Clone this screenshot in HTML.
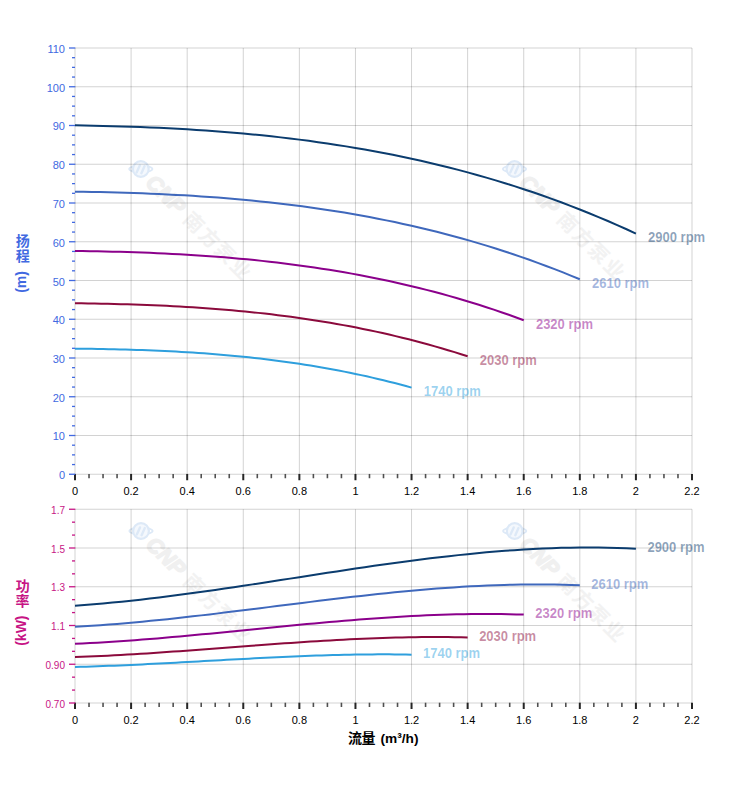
<!DOCTYPE html>
<html><head><meta charset="utf-8"><title>Pump curves</title>
<style>html,body{margin:0;padding:0;background:#fff;}svg{display:block;}text{font-family:"Liberation Sans",sans-serif;}text.cjk{font-family:"Liberation Sans","Noto Sans CJK SC",sans-serif;}</style>
</head><body>
<svg width="752" height="797" viewBox="0 0 752 797">
<rect width="752" height="797" fill="#fff"/>
<g transform="translate(140.8,169)">
<ellipse cx="0" cy="0" rx="11.6" ry="3.4" fill="none" stroke="#dde9f7" stroke-width="1.8"/>
<circle cx="0" cy="0" r="7.9" fill="#f4f8fd" stroke="#dde9f7" stroke-width="2.2"/>
<path d="M-4.2 3.6 L-1.0 -3.6" stroke="#dde9f7" stroke-width="2.4" stroke-linecap="round" fill="none"/>
<path d="M0.6 4.2 L3.8 -3.0" stroke="#dde9f7" stroke-width="2.4" stroke-linecap="round" fill="none"/>
</g>
<g transform="translate(140.8,169) rotate(45)">
<text x="13" y="7.7" font-size="21.5" font-weight="bold" font-style="italic" fill="#f0f0f0" stroke="#f0f0f0" stroke-width="1.5" stroke-linejoin="round">CNP</text>
<text class="cjk" x="65.3 87.3 109.3 131.3" y="7.4" font-size="20" font-weight="bold" fill="#f2f2f2">南方泵业</text>
</g>
<g transform="translate(514.5,169)">
<ellipse cx="0" cy="0" rx="11.6" ry="3.4" fill="none" stroke="#dde9f7" stroke-width="1.8"/>
<circle cx="0" cy="0" r="7.9" fill="#f4f8fd" stroke="#dde9f7" stroke-width="2.2"/>
<path d="M-4.2 3.6 L-1.0 -3.6" stroke="#dde9f7" stroke-width="2.4" stroke-linecap="round" fill="none"/>
<path d="M0.6 4.2 L3.8 -3.0" stroke="#dde9f7" stroke-width="2.4" stroke-linecap="round" fill="none"/>
</g>
<g transform="translate(514.5,169) rotate(45)">
<text x="13" y="7.7" font-size="21.5" font-weight="bold" font-style="italic" fill="#f0f0f0" stroke="#f0f0f0" stroke-width="1.5" stroke-linejoin="round">CNP</text>
<text class="cjk" x="65.3 87.3 109.3 131.3" y="7.4" font-size="20" font-weight="bold" fill="#f2f2f2">南方泵业</text>
</g>
<g transform="translate(141,531)">
<ellipse cx="0" cy="0" rx="11.6" ry="3.4" fill="none" stroke="#dde9f7" stroke-width="1.8"/>
<circle cx="0" cy="0" r="7.9" fill="#f4f8fd" stroke="#dde9f7" stroke-width="2.2"/>
<path d="M-4.2 3.6 L-1.0 -3.6" stroke="#dde9f7" stroke-width="2.4" stroke-linecap="round" fill="none"/>
<path d="M0.6 4.2 L3.8 -3.0" stroke="#dde9f7" stroke-width="2.4" stroke-linecap="round" fill="none"/>
</g>
<g transform="translate(141,531) rotate(45)">
<text x="13" y="7.7" font-size="21.5" font-weight="bold" font-style="italic" fill="#f0f0f0" stroke="#f0f0f0" stroke-width="1.5" stroke-linejoin="round">CNP</text>
<text class="cjk" x="65.3 87.3 109.3 131.3" y="7.4" font-size="20" font-weight="bold" fill="#f2f2f2">南方泵业</text>
</g>
<g transform="translate(514.7,531)">
<ellipse cx="0" cy="0" rx="11.6" ry="3.4" fill="none" stroke="#dde9f7" stroke-width="1.8"/>
<circle cx="0" cy="0" r="7.9" fill="#f4f8fd" stroke="#dde9f7" stroke-width="2.2"/>
<path d="M-4.2 3.6 L-1.0 -3.6" stroke="#dde9f7" stroke-width="2.4" stroke-linecap="round" fill="none"/>
<path d="M0.6 4.2 L3.8 -3.0" stroke="#dde9f7" stroke-width="2.4" stroke-linecap="round" fill="none"/>
</g>
<g transform="translate(514.7,531) rotate(45)">
<text x="13" y="7.7" font-size="21.5" font-weight="bold" font-style="italic" fill="#f0f0f0" stroke="#f0f0f0" stroke-width="1.5" stroke-linejoin="round">CNP</text>
<text class="cjk" x="65.3 87.3 109.3 131.3" y="7.4" font-size="20" font-weight="bold" fill="#f2f2f2">南方泵业</text>
</g>
<line x1="75.000" y1="48.0" x2="75.000" y2="474.25" stroke="#000" stroke-opacity="0.175" stroke-width="1"/>
<line x1="131.091" y1="48.0" x2="131.091" y2="474.25" stroke="#000" stroke-opacity="0.175" stroke-width="1"/>
<line x1="187.182" y1="48.0" x2="187.182" y2="474.25" stroke="#000" stroke-opacity="0.175" stroke-width="1"/>
<line x1="243.273" y1="48.0" x2="243.273" y2="474.25" stroke="#000" stroke-opacity="0.175" stroke-width="1"/>
<line x1="299.364" y1="48.0" x2="299.364" y2="474.25" stroke="#000" stroke-opacity="0.175" stroke-width="1"/>
<line x1="355.455" y1="48.0" x2="355.455" y2="474.25" stroke="#000" stroke-opacity="0.175" stroke-width="1"/>
<line x1="411.545" y1="48.0" x2="411.545" y2="474.25" stroke="#000" stroke-opacity="0.175" stroke-width="1"/>
<line x1="467.636" y1="48.0" x2="467.636" y2="474.25" stroke="#000" stroke-opacity="0.175" stroke-width="1"/>
<line x1="523.727" y1="48.0" x2="523.727" y2="474.25" stroke="#000" stroke-opacity="0.175" stroke-width="1"/>
<line x1="579.818" y1="48.0" x2="579.818" y2="474.25" stroke="#000" stroke-opacity="0.175" stroke-width="1"/>
<line x1="635.909" y1="48.0" x2="635.909" y2="474.25" stroke="#000" stroke-opacity="0.175" stroke-width="1"/>
<line x1="692.000" y1="48.0" x2="692.000" y2="474.25" stroke="#000" stroke-opacity="0.175" stroke-width="1"/>
<line x1="75.0" y1="48.000" x2="692.0" y2="48.000" stroke="#000" stroke-opacity="0.175" stroke-width="1"/>
<line x1="75.0" y1="86.750" x2="692.0" y2="86.750" stroke="#000" stroke-opacity="0.175" stroke-width="1"/>
<line x1="75.0" y1="125.500" x2="692.0" y2="125.500" stroke="#000" stroke-opacity="0.175" stroke-width="1"/>
<line x1="75.0" y1="164.250" x2="692.0" y2="164.250" stroke="#000" stroke-opacity="0.175" stroke-width="1"/>
<line x1="75.0" y1="203.000" x2="692.0" y2="203.000" stroke="#000" stroke-opacity="0.175" stroke-width="1"/>
<line x1="75.0" y1="241.750" x2="692.0" y2="241.750" stroke="#000" stroke-opacity="0.175" stroke-width="1"/>
<line x1="75.0" y1="280.500" x2="692.0" y2="280.500" stroke="#000" stroke-opacity="0.175" stroke-width="1"/>
<line x1="75.0" y1="319.250" x2="692.0" y2="319.250" stroke="#000" stroke-opacity="0.175" stroke-width="1"/>
<line x1="75.0" y1="358.000" x2="692.0" y2="358.000" stroke="#000" stroke-opacity="0.175" stroke-width="1"/>
<line x1="75.0" y1="396.750" x2="692.0" y2="396.750" stroke="#000" stroke-opacity="0.175" stroke-width="1"/>
<line x1="75.0" y1="435.500" x2="692.0" y2="435.500" stroke="#000" stroke-opacity="0.175" stroke-width="1"/>
<line x1="75.0" y1="474.250" x2="692.0" y2="474.250" stroke="#000" stroke-opacity="0.175" stroke-width="1"/>
<line x1="75.000" y1="509.25" x2="75.000" y2="703.0" stroke="#000" stroke-opacity="0.175" stroke-width="1"/>
<line x1="131.091" y1="509.25" x2="131.091" y2="703.0" stroke="#000" stroke-opacity="0.175" stroke-width="1"/>
<line x1="187.182" y1="509.25" x2="187.182" y2="703.0" stroke="#000" stroke-opacity="0.175" stroke-width="1"/>
<line x1="243.273" y1="509.25" x2="243.273" y2="703.0" stroke="#000" stroke-opacity="0.175" stroke-width="1"/>
<line x1="299.364" y1="509.25" x2="299.364" y2="703.0" stroke="#000" stroke-opacity="0.175" stroke-width="1"/>
<line x1="355.455" y1="509.25" x2="355.455" y2="703.0" stroke="#000" stroke-opacity="0.175" stroke-width="1"/>
<line x1="411.545" y1="509.25" x2="411.545" y2="703.0" stroke="#000" stroke-opacity="0.175" stroke-width="1"/>
<line x1="467.636" y1="509.25" x2="467.636" y2="703.0" stroke="#000" stroke-opacity="0.175" stroke-width="1"/>
<line x1="523.727" y1="509.25" x2="523.727" y2="703.0" stroke="#000" stroke-opacity="0.175" stroke-width="1"/>
<line x1="579.818" y1="509.25" x2="579.818" y2="703.0" stroke="#000" stroke-opacity="0.175" stroke-width="1"/>
<line x1="635.909" y1="509.25" x2="635.909" y2="703.0" stroke="#000" stroke-opacity="0.175" stroke-width="1"/>
<line x1="692.000" y1="509.25" x2="692.000" y2="703.0" stroke="#000" stroke-opacity="0.175" stroke-width="1"/>
<line x1="75.0" y1="509.250" x2="692.0" y2="509.250" stroke="#000" stroke-opacity="0.175" stroke-width="1"/>
<line x1="75.0" y1="548.000" x2="692.0" y2="548.000" stroke="#000" stroke-opacity="0.175" stroke-width="1"/>
<line x1="75.0" y1="586.750" x2="692.0" y2="586.750" stroke="#000" stroke-opacity="0.175" stroke-width="1"/>
<line x1="75.0" y1="625.500" x2="692.0" y2="625.500" stroke="#000" stroke-opacity="0.175" stroke-width="1"/>
<line x1="75.0" y1="664.250" x2="692.0" y2="664.250" stroke="#000" stroke-opacity="0.175" stroke-width="1"/>
<line x1="75.0" y1="703.000" x2="692.0" y2="703.000" stroke="#000" stroke-opacity="0.175" stroke-width="1"/>
<line x1="75.000" y1="473.95" x2="75.000" y2="480.25" stroke="#262626" stroke-width="2"/>
<line x1="89.023" y1="473.95" x2="89.023" y2="478.25" stroke="#505050" stroke-width="1.6"/>
<line x1="103.045" y1="473.95" x2="103.045" y2="478.25" stroke="#505050" stroke-width="1.6"/>
<line x1="117.068" y1="473.95" x2="117.068" y2="478.25" stroke="#505050" stroke-width="1.6"/>
<line x1="131.091" y1="473.95" x2="131.091" y2="480.25" stroke="#262626" stroke-width="2"/>
<line x1="145.114" y1="473.95" x2="145.114" y2="478.25" stroke="#505050" stroke-width="1.6"/>
<line x1="159.136" y1="473.95" x2="159.136" y2="478.25" stroke="#505050" stroke-width="1.6"/>
<line x1="173.159" y1="473.95" x2="173.159" y2="478.25" stroke="#505050" stroke-width="1.6"/>
<line x1="187.182" y1="473.95" x2="187.182" y2="480.25" stroke="#262626" stroke-width="2"/>
<line x1="201.205" y1="473.95" x2="201.205" y2="478.25" stroke="#505050" stroke-width="1.6"/>
<line x1="215.227" y1="473.95" x2="215.227" y2="478.25" stroke="#505050" stroke-width="1.6"/>
<line x1="229.250" y1="473.95" x2="229.250" y2="478.25" stroke="#505050" stroke-width="1.6"/>
<line x1="243.273" y1="473.95" x2="243.273" y2="480.25" stroke="#262626" stroke-width="2"/>
<line x1="257.295" y1="473.95" x2="257.295" y2="478.25" stroke="#505050" stroke-width="1.6"/>
<line x1="271.318" y1="473.95" x2="271.318" y2="478.25" stroke="#505050" stroke-width="1.6"/>
<line x1="285.341" y1="473.95" x2="285.341" y2="478.25" stroke="#505050" stroke-width="1.6"/>
<line x1="299.364" y1="473.95" x2="299.364" y2="480.25" stroke="#262626" stroke-width="2"/>
<line x1="313.386" y1="473.95" x2="313.386" y2="478.25" stroke="#505050" stroke-width="1.6"/>
<line x1="327.409" y1="473.95" x2="327.409" y2="478.25" stroke="#505050" stroke-width="1.6"/>
<line x1="341.432" y1="473.95" x2="341.432" y2="478.25" stroke="#505050" stroke-width="1.6"/>
<line x1="355.455" y1="473.95" x2="355.455" y2="480.25" stroke="#262626" stroke-width="2"/>
<line x1="369.477" y1="473.95" x2="369.477" y2="478.25" stroke="#505050" stroke-width="1.6"/>
<line x1="383.500" y1="473.95" x2="383.500" y2="478.25" stroke="#505050" stroke-width="1.6"/>
<line x1="397.523" y1="473.95" x2="397.523" y2="478.25" stroke="#505050" stroke-width="1.6"/>
<line x1="411.545" y1="473.95" x2="411.545" y2="480.25" stroke="#262626" stroke-width="2"/>
<line x1="425.568" y1="473.95" x2="425.568" y2="478.25" stroke="#505050" stroke-width="1.6"/>
<line x1="439.591" y1="473.95" x2="439.591" y2="478.25" stroke="#505050" stroke-width="1.6"/>
<line x1="453.614" y1="473.95" x2="453.614" y2="478.25" stroke="#505050" stroke-width="1.6"/>
<line x1="467.636" y1="473.95" x2="467.636" y2="480.25" stroke="#262626" stroke-width="2"/>
<line x1="481.659" y1="473.95" x2="481.659" y2="478.25" stroke="#505050" stroke-width="1.6"/>
<line x1="495.682" y1="473.95" x2="495.682" y2="478.25" stroke="#505050" stroke-width="1.6"/>
<line x1="509.705" y1="473.95" x2="509.705" y2="478.25" stroke="#505050" stroke-width="1.6"/>
<line x1="523.727" y1="473.95" x2="523.727" y2="480.25" stroke="#262626" stroke-width="2"/>
<line x1="537.750" y1="473.95" x2="537.750" y2="478.25" stroke="#505050" stroke-width="1.6"/>
<line x1="551.773" y1="473.95" x2="551.773" y2="478.25" stroke="#505050" stroke-width="1.6"/>
<line x1="565.795" y1="473.95" x2="565.795" y2="478.25" stroke="#505050" stroke-width="1.6"/>
<line x1="579.818" y1="473.95" x2="579.818" y2="480.25" stroke="#262626" stroke-width="2"/>
<line x1="593.841" y1="473.95" x2="593.841" y2="478.25" stroke="#505050" stroke-width="1.6"/>
<line x1="607.864" y1="473.95" x2="607.864" y2="478.25" stroke="#505050" stroke-width="1.6"/>
<line x1="621.886" y1="473.95" x2="621.886" y2="478.25" stroke="#505050" stroke-width="1.6"/>
<line x1="635.909" y1="473.95" x2="635.909" y2="480.25" stroke="#262626" stroke-width="2"/>
<line x1="649.932" y1="473.95" x2="649.932" y2="478.25" stroke="#505050" stroke-width="1.6"/>
<line x1="663.955" y1="473.95" x2="663.955" y2="478.25" stroke="#505050" stroke-width="1.6"/>
<line x1="677.977" y1="473.95" x2="677.977" y2="478.25" stroke="#505050" stroke-width="1.6"/>
<line x1="692.000" y1="473.95" x2="692.000" y2="480.25" stroke="#262626" stroke-width="2"/>
<text x="75.00" y="495" font-size="11" text-anchor="middle" fill="#000">0</text>
<text x="131.09" y="495" font-size="11" text-anchor="middle" fill="#000">0.2</text>
<text x="187.18" y="495" font-size="11" text-anchor="middle" fill="#000">0.4</text>
<text x="243.27" y="495" font-size="11" text-anchor="middle" fill="#000">0.6</text>
<text x="299.36" y="495" font-size="11" text-anchor="middle" fill="#000">0.8</text>
<text x="355.45" y="495" font-size="11" text-anchor="middle" fill="#000">1</text>
<text x="411.55" y="495" font-size="11" text-anchor="middle" fill="#000">1.2</text>
<text x="467.64" y="495" font-size="11" text-anchor="middle" fill="#000">1.4</text>
<text x="523.73" y="495" font-size="11" text-anchor="middle" fill="#000">1.6</text>
<text x="579.82" y="495" font-size="11" text-anchor="middle" fill="#000">1.8</text>
<text x="635.91" y="495" font-size="11" text-anchor="middle" fill="#000">2</text>
<text x="692.00" y="495" font-size="11" text-anchor="middle" fill="#000">2.2</text>
<line x1="75.000" y1="702.7" x2="75.000" y2="709.0" stroke="#262626" stroke-width="2"/>
<line x1="89.023" y1="702.7" x2="89.023" y2="707.0" stroke="#505050" stroke-width="1.6"/>
<line x1="103.045" y1="702.7" x2="103.045" y2="707.0" stroke="#505050" stroke-width="1.6"/>
<line x1="117.068" y1="702.7" x2="117.068" y2="707.0" stroke="#505050" stroke-width="1.6"/>
<line x1="131.091" y1="702.7" x2="131.091" y2="709.0" stroke="#262626" stroke-width="2"/>
<line x1="145.114" y1="702.7" x2="145.114" y2="707.0" stroke="#505050" stroke-width="1.6"/>
<line x1="159.136" y1="702.7" x2="159.136" y2="707.0" stroke="#505050" stroke-width="1.6"/>
<line x1="173.159" y1="702.7" x2="173.159" y2="707.0" stroke="#505050" stroke-width="1.6"/>
<line x1="187.182" y1="702.7" x2="187.182" y2="709.0" stroke="#262626" stroke-width="2"/>
<line x1="201.205" y1="702.7" x2="201.205" y2="707.0" stroke="#505050" stroke-width="1.6"/>
<line x1="215.227" y1="702.7" x2="215.227" y2="707.0" stroke="#505050" stroke-width="1.6"/>
<line x1="229.250" y1="702.7" x2="229.250" y2="707.0" stroke="#505050" stroke-width="1.6"/>
<line x1="243.273" y1="702.7" x2="243.273" y2="709.0" stroke="#262626" stroke-width="2"/>
<line x1="257.295" y1="702.7" x2="257.295" y2="707.0" stroke="#505050" stroke-width="1.6"/>
<line x1="271.318" y1="702.7" x2="271.318" y2="707.0" stroke="#505050" stroke-width="1.6"/>
<line x1="285.341" y1="702.7" x2="285.341" y2="707.0" stroke="#505050" stroke-width="1.6"/>
<line x1="299.364" y1="702.7" x2="299.364" y2="709.0" stroke="#262626" stroke-width="2"/>
<line x1="313.386" y1="702.7" x2="313.386" y2="707.0" stroke="#505050" stroke-width="1.6"/>
<line x1="327.409" y1="702.7" x2="327.409" y2="707.0" stroke="#505050" stroke-width="1.6"/>
<line x1="341.432" y1="702.7" x2="341.432" y2="707.0" stroke="#505050" stroke-width="1.6"/>
<line x1="355.455" y1="702.7" x2="355.455" y2="709.0" stroke="#262626" stroke-width="2"/>
<line x1="369.477" y1="702.7" x2="369.477" y2="707.0" stroke="#505050" stroke-width="1.6"/>
<line x1="383.500" y1="702.7" x2="383.500" y2="707.0" stroke="#505050" stroke-width="1.6"/>
<line x1="397.523" y1="702.7" x2="397.523" y2="707.0" stroke="#505050" stroke-width="1.6"/>
<line x1="411.545" y1="702.7" x2="411.545" y2="709.0" stroke="#262626" stroke-width="2"/>
<line x1="425.568" y1="702.7" x2="425.568" y2="707.0" stroke="#505050" stroke-width="1.6"/>
<line x1="439.591" y1="702.7" x2="439.591" y2="707.0" stroke="#505050" stroke-width="1.6"/>
<line x1="453.614" y1="702.7" x2="453.614" y2="707.0" stroke="#505050" stroke-width="1.6"/>
<line x1="467.636" y1="702.7" x2="467.636" y2="709.0" stroke="#262626" stroke-width="2"/>
<line x1="481.659" y1="702.7" x2="481.659" y2="707.0" stroke="#505050" stroke-width="1.6"/>
<line x1="495.682" y1="702.7" x2="495.682" y2="707.0" stroke="#505050" stroke-width="1.6"/>
<line x1="509.705" y1="702.7" x2="509.705" y2="707.0" stroke="#505050" stroke-width="1.6"/>
<line x1="523.727" y1="702.7" x2="523.727" y2="709.0" stroke="#262626" stroke-width="2"/>
<line x1="537.750" y1="702.7" x2="537.750" y2="707.0" stroke="#505050" stroke-width="1.6"/>
<line x1="551.773" y1="702.7" x2="551.773" y2="707.0" stroke="#505050" stroke-width="1.6"/>
<line x1="565.795" y1="702.7" x2="565.795" y2="707.0" stroke="#505050" stroke-width="1.6"/>
<line x1="579.818" y1="702.7" x2="579.818" y2="709.0" stroke="#262626" stroke-width="2"/>
<line x1="593.841" y1="702.7" x2="593.841" y2="707.0" stroke="#505050" stroke-width="1.6"/>
<line x1="607.864" y1="702.7" x2="607.864" y2="707.0" stroke="#505050" stroke-width="1.6"/>
<line x1="621.886" y1="702.7" x2="621.886" y2="707.0" stroke="#505050" stroke-width="1.6"/>
<line x1="635.909" y1="702.7" x2="635.909" y2="709.0" stroke="#262626" stroke-width="2"/>
<line x1="649.932" y1="702.7" x2="649.932" y2="707.0" stroke="#505050" stroke-width="1.6"/>
<line x1="663.955" y1="702.7" x2="663.955" y2="707.0" stroke="#505050" stroke-width="1.6"/>
<line x1="677.977" y1="702.7" x2="677.977" y2="707.0" stroke="#505050" stroke-width="1.6"/>
<line x1="692.000" y1="702.7" x2="692.000" y2="709.0" stroke="#262626" stroke-width="2"/>
<text x="75.00" y="724" font-size="11" text-anchor="middle" fill="#000">0</text>
<text x="131.09" y="724" font-size="11" text-anchor="middle" fill="#000">0.2</text>
<text x="187.18" y="724" font-size="11" text-anchor="middle" fill="#000">0.4</text>
<text x="243.27" y="724" font-size="11" text-anchor="middle" fill="#000">0.6</text>
<text x="299.36" y="724" font-size="11" text-anchor="middle" fill="#000">0.8</text>
<text x="355.45" y="724" font-size="11" text-anchor="middle" fill="#000">1</text>
<text x="411.55" y="724" font-size="11" text-anchor="middle" fill="#000">1.2</text>
<text x="467.64" y="724" font-size="11" text-anchor="middle" fill="#000">1.4</text>
<text x="523.73" y="724" font-size="11" text-anchor="middle" fill="#000">1.6</text>
<text x="579.82" y="724" font-size="11" text-anchor="middle" fill="#000">1.8</text>
<text x="635.91" y="724" font-size="11" text-anchor="middle" fill="#000">2</text>
<text x="692.00" y="724" font-size="11" text-anchor="middle" fill="#000">2.2</text>
<line x1="69.0" y1="48.000" x2="75.3" y2="48.000" stroke="#4169E1" stroke-width="1.3"/>
<text x="65.0" y="52.85" font-size="11" text-anchor="end" fill="#4169E1">110</text>
<line x1="72.0" y1="57.688" x2="75.0" y2="57.688" stroke="#4169E1" stroke-width="1.3"/>
<line x1="72.0" y1="67.375" x2="75.0" y2="67.375" stroke="#4169E1" stroke-width="1.3"/>
<line x1="72.0" y1="77.062" x2="75.0" y2="77.062" stroke="#4169E1" stroke-width="1.3"/>
<line x1="69.0" y1="86.750" x2="75.3" y2="86.750" stroke="#4169E1" stroke-width="1.3"/>
<text x="65.0" y="91.85" font-size="11" text-anchor="end" fill="#4169E1">100</text>
<line x1="72.0" y1="96.438" x2="75.0" y2="96.438" stroke="#4169E1" stroke-width="1.3"/>
<line x1="72.0" y1="106.125" x2="75.0" y2="106.125" stroke="#4169E1" stroke-width="1.3"/>
<line x1="72.0" y1="115.812" x2="75.0" y2="115.812" stroke="#4169E1" stroke-width="1.3"/>
<line x1="69.0" y1="125.500" x2="75.3" y2="125.500" stroke="#4169E1" stroke-width="1.3"/>
<text x="65.0" y="129.85" font-size="11" text-anchor="end" fill="#4169E1">90</text>
<line x1="72.0" y1="135.188" x2="75.0" y2="135.188" stroke="#4169E1" stroke-width="1.3"/>
<line x1="72.0" y1="144.875" x2="75.0" y2="144.875" stroke="#4169E1" stroke-width="1.3"/>
<line x1="72.0" y1="154.562" x2="75.0" y2="154.562" stroke="#4169E1" stroke-width="1.3"/>
<line x1="69.0" y1="164.250" x2="75.3" y2="164.250" stroke="#4169E1" stroke-width="1.3"/>
<text x="65.0" y="168.85" font-size="11" text-anchor="end" fill="#4169E1">80</text>
<line x1="72.0" y1="173.938" x2="75.0" y2="173.938" stroke="#4169E1" stroke-width="1.3"/>
<line x1="72.0" y1="183.625" x2="75.0" y2="183.625" stroke="#4169E1" stroke-width="1.3"/>
<line x1="72.0" y1="193.312" x2="75.0" y2="193.312" stroke="#4169E1" stroke-width="1.3"/>
<line x1="69.0" y1="203.000" x2="75.3" y2="203.000" stroke="#4169E1" stroke-width="1.3"/>
<text x="65.0" y="207.85" font-size="11" text-anchor="end" fill="#4169E1">70</text>
<line x1="72.0" y1="212.688" x2="75.0" y2="212.688" stroke="#4169E1" stroke-width="1.3"/>
<line x1="72.0" y1="222.375" x2="75.0" y2="222.375" stroke="#4169E1" stroke-width="1.3"/>
<line x1="72.0" y1="232.062" x2="75.0" y2="232.062" stroke="#4169E1" stroke-width="1.3"/>
<line x1="69.0" y1="241.750" x2="75.3" y2="241.750" stroke="#4169E1" stroke-width="1.3"/>
<text x="65.0" y="246.85" font-size="11" text-anchor="end" fill="#4169E1">60</text>
<line x1="72.0" y1="251.438" x2="75.0" y2="251.438" stroke="#4169E1" stroke-width="1.3"/>
<line x1="72.0" y1="261.125" x2="75.0" y2="261.125" stroke="#4169E1" stroke-width="1.3"/>
<line x1="72.0" y1="270.812" x2="75.0" y2="270.812" stroke="#4169E1" stroke-width="1.3"/>
<line x1="69.0" y1="280.500" x2="75.3" y2="280.500" stroke="#4169E1" stroke-width="1.3"/>
<text x="65.0" y="285.85" font-size="11" text-anchor="end" fill="#4169E1">50</text>
<line x1="72.0" y1="290.188" x2="75.0" y2="290.188" stroke="#4169E1" stroke-width="1.3"/>
<line x1="72.0" y1="299.875" x2="75.0" y2="299.875" stroke="#4169E1" stroke-width="1.3"/>
<line x1="72.0" y1="309.562" x2="75.0" y2="309.562" stroke="#4169E1" stroke-width="1.3"/>
<line x1="69.0" y1="319.250" x2="75.3" y2="319.250" stroke="#4169E1" stroke-width="1.3"/>
<text x="65.0" y="323.85" font-size="11" text-anchor="end" fill="#4169E1">40</text>
<line x1="72.0" y1="328.938" x2="75.0" y2="328.938" stroke="#4169E1" stroke-width="1.3"/>
<line x1="72.0" y1="338.625" x2="75.0" y2="338.625" stroke="#4169E1" stroke-width="1.3"/>
<line x1="72.0" y1="348.312" x2="75.0" y2="348.312" stroke="#4169E1" stroke-width="1.3"/>
<line x1="69.0" y1="358.000" x2="75.3" y2="358.000" stroke="#4169E1" stroke-width="1.3"/>
<text x="65.0" y="362.85" font-size="11" text-anchor="end" fill="#4169E1">30</text>
<line x1="72.0" y1="367.688" x2="75.0" y2="367.688" stroke="#4169E1" stroke-width="1.3"/>
<line x1="72.0" y1="377.375" x2="75.0" y2="377.375" stroke="#4169E1" stroke-width="1.3"/>
<line x1="72.0" y1="387.062" x2="75.0" y2="387.062" stroke="#4169E1" stroke-width="1.3"/>
<line x1="69.0" y1="396.750" x2="75.3" y2="396.750" stroke="#4169E1" stroke-width="1.3"/>
<text x="65.0" y="401.85" font-size="11" text-anchor="end" fill="#4169E1">20</text>
<line x1="72.0" y1="406.438" x2="75.0" y2="406.438" stroke="#4169E1" stroke-width="1.3"/>
<line x1="72.0" y1="416.125" x2="75.0" y2="416.125" stroke="#4169E1" stroke-width="1.3"/>
<line x1="72.0" y1="425.812" x2="75.0" y2="425.812" stroke="#4169E1" stroke-width="1.3"/>
<line x1="69.0" y1="435.500" x2="75.3" y2="435.500" stroke="#4169E1" stroke-width="1.3"/>
<text x="65.0" y="439.85" font-size="11" text-anchor="end" fill="#4169E1">10</text>
<line x1="72.0" y1="445.188" x2="75.0" y2="445.188" stroke="#4169E1" stroke-width="1.3"/>
<line x1="72.0" y1="454.875" x2="75.0" y2="454.875" stroke="#4169E1" stroke-width="1.3"/>
<line x1="72.0" y1="464.562" x2="75.0" y2="464.562" stroke="#4169E1" stroke-width="1.3"/>
<line x1="69.0" y1="474.250" x2="75.3" y2="474.250" stroke="#4169E1" stroke-width="1.3"/>
<text x="65.0" y="478.85" font-size="11" text-anchor="end" fill="#4169E1">0</text>
<line x1="69.0" y1="509.250" x2="75.3" y2="509.250" stroke="#C71585" stroke-width="1.3"/>
<text x="65.0" y="513.85" font-size="10" text-anchor="end" fill="#C71585">1.7</text>
<line x1="72.0" y1="522.167" x2="75.0" y2="522.167" stroke="#C71585" stroke-width="1.3"/>
<line x1="72.0" y1="535.083" x2="75.0" y2="535.083" stroke="#C71585" stroke-width="1.3"/>
<line x1="69.0" y1="548.000" x2="75.3" y2="548.000" stroke="#C71585" stroke-width="1.3"/>
<text x="65.0" y="552.85" font-size="10" text-anchor="end" fill="#C71585">1.5</text>
<line x1="72.0" y1="560.917" x2="75.0" y2="560.917" stroke="#C71585" stroke-width="1.3"/>
<line x1="72.0" y1="573.833" x2="75.0" y2="573.833" stroke="#C71585" stroke-width="1.3"/>
<line x1="69.0" y1="586.750" x2="75.3" y2="586.750" stroke="#C71585" stroke-width="1.3"/>
<text x="65.0" y="590.85" font-size="10" text-anchor="end" fill="#C71585">1.3</text>
<line x1="72.0" y1="599.667" x2="75.0" y2="599.667" stroke="#C71585" stroke-width="1.3"/>
<line x1="72.0" y1="612.583" x2="75.0" y2="612.583" stroke="#C71585" stroke-width="1.3"/>
<line x1="69.0" y1="625.500" x2="75.3" y2="625.500" stroke="#C71585" stroke-width="1.3"/>
<text x="65.0" y="629.85" font-size="10" text-anchor="end" fill="#C71585">1.1</text>
<line x1="72.0" y1="638.417" x2="75.0" y2="638.417" stroke="#C71585" stroke-width="1.3"/>
<line x1="72.0" y1="651.333" x2="75.0" y2="651.333" stroke="#C71585" stroke-width="1.3"/>
<line x1="69.0" y1="664.250" x2="75.3" y2="664.250" stroke="#C71585" stroke-width="1.3"/>
<text x="65.0" y="668.85" font-size="10" text-anchor="end" fill="#C71585">0.90</text>
<line x1="72.0" y1="677.167" x2="75.0" y2="677.167" stroke="#C71585" stroke-width="1.3"/>
<line x1="72.0" y1="690.083" x2="75.0" y2="690.083" stroke="#C71585" stroke-width="1.3"/>
<line x1="69.0" y1="703.000" x2="75.3" y2="703.000" stroke="#C71585" stroke-width="1.3"/>
<text x="65.0" y="707.85" font-size="10" text-anchor="end" fill="#C71585">0.70</text>
<path d="M75.00 125.36 L84.35 125.51 L93.70 125.70 L103.05 125.91 L112.39 126.15 L121.74 126.43 L131.09 126.73 L140.44 127.08 L149.79 127.45 L159.14 127.87 L168.48 128.32 L177.83 128.82 L187.18 129.36 L196.53 129.94 L205.88 130.57 L215.23 131.24 L224.58 131.96 L233.92 132.73 L243.27 133.55 L252.62 134.43 L261.97 135.35 L271.32 136.34 L280.67 137.38 L290.02 138.48 L299.36 139.63 L308.71 140.85 L318.06 142.14 L327.41 143.48 L336.76 144.89 L346.11 146.37 L355.45 147.92 L364.80 149.54 L374.15 151.23 L383.50 152.99 L392.85 154.83 L402.20 156.74 L411.55 158.73 L420.89 160.80 L430.24 162.95 L439.59 165.18 L448.94 167.50 L458.29 169.90 L467.64 172.38 L476.98 174.96 L486.33 177.62 L495.68 180.37 L505.03 183.22 L514.38 186.16 L523.73 189.19 L533.08 192.32 L542.42 195.55 L551.77 198.88 L561.12 202.31 L570.47 205.84 L579.82 209.48 L589.17 213.22 L598.52 217.07 L607.86 221.03 L617.21 225.10 L626.56 229.27 L635.91 233.56" fill="none" stroke="#0B3C6E" stroke-width="2" stroke-linejoin="round"/>
<text transform="translate(648.11,241.86) scale(1,1.06)" font-size="13" font-weight="bold" fill="#0B3C6E" fill-opacity="0.47">2900 rpm</text>
<path d="M75.00 191.65 L83.41 191.77 L91.83 191.92 L100.24 192.09 L108.65 192.29 L117.07 192.51 L125.48 192.76 L133.90 193.04 L142.31 193.34 L150.72 193.68 L159.14 194.05 L167.55 194.45 L175.96 194.89 L184.38 195.36 L192.79 195.87 L201.20 196.41 L209.62 197.00 L218.03 197.62 L226.45 198.29 L234.86 198.99 L243.27 199.74 L251.69 200.54 L260.10 201.38 L268.51 202.27 L276.93 203.21 L285.34 204.20 L293.75 205.24 L302.17 206.33 L310.58 207.47 L319.00 208.67 L327.41 209.92 L335.82 211.23 L344.24 212.60 L352.65 214.03 L361.06 215.52 L369.48 217.07 L377.89 218.68 L386.30 220.36 L394.72 222.10 L403.13 223.90 L411.55 225.78 L419.96 227.72 L428.37 229.74 L436.79 231.82 L445.20 233.98 L453.61 236.21 L462.03 238.51 L470.44 240.90 L478.85 243.35 L487.27 245.89 L495.68 248.51 L504.10 251.20 L512.51 253.98 L520.92 256.84 L529.34 259.79 L537.75 262.82 L546.16 265.94 L554.58 269.14 L562.99 272.43 L571.40 275.82 L579.82 279.29" fill="none" stroke="#3F68BC" stroke-width="2" stroke-linejoin="round"/>
<text transform="translate(592.02,287.59) scale(1,1.06)" font-size="13" font-weight="bold" fill="#3F68BC" fill-opacity="0.47">2610 rpm</text>
<path d="M75.00 250.96 L82.48 251.06 L89.96 251.18 L97.44 251.31 L104.92 251.47 L112.39 251.64 L119.87 251.84 L127.35 252.06 L134.83 252.30 L142.31 252.57 L149.79 252.86 L157.27 253.18 L164.75 253.52 L172.22 253.89 L179.70 254.29 L187.18 254.72 L194.66 255.18 L202.14 255.68 L209.62 256.20 L217.10 256.76 L224.58 257.36 L232.05 257.99 L239.53 258.65 L247.01 259.35 L254.49 260.10 L261.97 260.88 L269.45 261.70 L276.93 262.56 L284.41 263.46 L291.88 264.41 L299.36 265.40 L306.84 266.43 L314.32 267.52 L321.80 268.64 L329.28 269.82 L336.76 271.04 L344.24 272.32 L351.72 273.64 L359.19 275.02 L366.67 276.45 L374.15 277.93 L381.63 279.46 L389.11 281.05 L396.59 282.70 L404.07 284.41 L411.55 286.17 L419.02 287.99 L426.50 289.87 L433.98 291.81 L441.46 293.82 L448.94 295.88 L456.42 298.01 L463.90 300.21 L471.38 302.47 L478.85 304.80 L486.33 307.19 L493.81 309.66 L501.29 312.19 L508.77 314.79 L516.25 317.47 L523.73 320.21" fill="none" stroke="#8B008B" stroke-width="2" stroke-linejoin="round"/>
<text transform="translate(535.93,328.51) scale(1,1.06)" font-size="13" font-weight="bold" fill="#8B008B" fill-opacity="0.47">2320 rpm</text>
<path d="M75.00 303.29 L81.54 303.37 L88.09 303.46 L94.63 303.56 L101.18 303.68 L107.72 303.82 L114.26 303.97 L120.81 304.13 L127.35 304.32 L133.90 304.52 L140.44 304.75 L146.98 304.99 L153.53 305.25 L160.07 305.54 L166.62 305.85 L173.16 306.17 L179.70 306.53 L186.25 306.91 L192.79 307.31 L199.33 307.74 L205.88 308.19 L212.42 308.67 L218.97 309.18 L225.51 309.72 L232.05 310.29 L238.60 310.89 L245.14 311.51 L251.69 312.17 L258.23 312.87 L264.77 313.59 L271.32 314.35 L277.86 315.14 L284.41 315.97 L290.95 316.83 L297.49 317.73 L304.04 318.67 L310.58 319.65 L317.13 320.66 L323.67 321.71 L330.21 322.81 L336.76 323.94 L343.30 325.12 L349.85 326.33 L356.39 327.60 L362.93 328.90 L369.48 330.25 L376.02 331.64 L382.57 333.08 L389.11 334.57 L395.65 336.11 L402.20 337.69 L408.74 339.32 L415.28 341.00 L421.83 342.73 L428.37 344.51 L434.92 346.35 L441.46 348.23 L448.00 350.17 L454.55 352.16 L461.09 354.21 L467.64 356.31" fill="none" stroke="#8B0A3C" stroke-width="2" stroke-linejoin="round"/>
<text transform="translate(479.84,364.61) scale(1,1.06)" font-size="13" font-weight="bold" fill="#8B0A3C" fill-opacity="0.47">2030 rpm</text>
<path d="M75.00 348.65 L80.61 348.71 L86.22 348.77 L91.83 348.85 L97.44 348.93 L103.05 349.03 L108.65 349.14 L114.26 349.27 L119.87 349.40 L125.48 349.55 L131.09 349.72 L136.70 349.90 L142.31 350.09 L147.92 350.30 L153.53 350.52 L159.14 350.77 L164.75 351.03 L170.35 351.30 L175.96 351.60 L181.57 351.91 L187.18 352.25 L192.79 352.60 L198.40 352.98 L204.01 353.37 L209.62 353.79 L215.23 354.23 L220.84 354.69 L226.45 355.17 L232.05 355.68 L237.66 356.21 L243.27 356.77 L248.88 357.35 L254.49 357.96 L260.10 358.60 L265.71 359.26 L271.32 359.95 L276.93 360.66 L282.54 361.41 L288.15 362.18 L293.75 362.99 L299.36 363.82 L304.97 364.68 L310.58 365.58 L316.19 366.50 L321.80 367.46 L327.41 368.45 L333.02 369.48 L338.63 370.54 L344.24 371.63 L349.85 372.76 L355.45 373.92 L361.06 375.12 L366.67 376.35 L372.28 377.62 L377.89 378.93 L383.50 380.28 L389.11 381.67 L394.72 383.09 L400.33 384.55 L405.94 386.06 L411.55 387.60" fill="none" stroke="#2E9FDD" stroke-width="2" stroke-linejoin="round"/>
<text transform="translate(423.75,395.90) scale(1,1.06)" font-size="13" font-weight="bold" fill="#2E9FDD" fill-opacity="0.47">1740 rpm</text>
<path d="M75.00 605.70 L84.35 605.02 L93.70 604.27 L103.05 603.47 L112.39 602.60 L121.74 601.67 L131.09 600.69 L140.44 599.66 L149.79 598.59 L159.14 597.46 L168.48 596.30 L177.83 595.09 L187.18 593.85 L196.53 592.58 L205.88 591.27 L215.23 589.94 L224.58 588.58 L233.92 587.20 L243.27 585.80 L252.62 584.38 L261.97 582.96 L271.32 581.52 L280.67 580.07 L290.02 578.62 L299.36 577.17 L308.71 575.72 L318.06 574.28 L327.41 572.84 L336.76 571.41 L346.11 570.00 L355.45 568.60 L364.80 567.22 L374.15 565.86 L383.50 564.53 L392.85 563.23 L402.20 561.95 L411.55 560.71 L420.89 559.51 L430.24 558.35 L439.59 557.22 L448.94 556.15 L458.29 555.12 L467.64 554.15 L476.98 553.22 L486.33 552.36 L495.68 551.55 L505.03 550.81 L514.38 550.14 L523.73 549.53 L533.08 548.99 L542.42 548.53 L551.77 548.15 L561.12 547.85 L570.47 547.63 L579.82 547.49 L589.17 547.45 L598.52 547.50 L607.86 547.64 L617.21 547.88 L626.56 548.22 L635.91 548.67" fill="none" stroke="#0B3C6E" stroke-width="2" stroke-linejoin="round"/>
<text transform="translate(647.41,552.07) scale(1,1.08)" font-size="13" font-weight="bold" fill="#0B3C6E" fill-opacity="0.47">2900 rpm</text>
<path d="M75.00 626.87 L83.41 626.37 L91.83 625.83 L100.24 625.24 L108.65 624.61 L117.07 623.93 L125.48 623.22 L133.90 622.47 L142.31 621.68 L150.72 620.87 L159.14 620.02 L167.55 619.14 L175.96 618.23 L184.38 617.30 L192.79 616.35 L201.20 615.38 L209.62 614.39 L218.03 613.38 L226.45 612.36 L234.86 611.33 L243.27 610.29 L251.69 609.24 L260.10 608.19 L268.51 607.13 L276.93 606.07 L285.34 605.02 L293.75 603.96 L302.17 602.91 L310.58 601.87 L319.00 600.84 L327.41 599.82 L335.82 598.82 L344.24 597.83 L352.65 596.86 L361.06 595.91 L369.48 594.98 L377.89 594.07 L386.30 593.20 L394.72 592.35 L403.13 591.53 L411.55 590.75 L419.96 590.00 L428.37 589.29 L436.79 588.61 L445.20 587.98 L453.61 587.40 L462.03 586.86 L470.44 586.36 L478.85 585.92 L487.27 585.53 L495.68 585.19 L504.10 584.92 L512.51 584.69 L520.92 584.53 L529.34 584.44 L537.75 584.41 L546.16 584.44 L554.58 584.55 L562.99 584.72 L571.40 584.97 L579.82 585.30" fill="none" stroke="#3F68BC" stroke-width="2" stroke-linejoin="round"/>
<text transform="translate(591.32,588.70) scale(1,1.08)" font-size="13" font-weight="bold" fill="#3F68BC" fill-opacity="0.47">2610 rpm</text>
<path d="M75.00 643.82 L82.48 643.47 L89.96 643.09 L97.44 642.68 L104.92 642.23 L112.39 641.76 L119.87 641.26 L127.35 640.73 L134.83 640.18 L142.31 639.60 L149.79 639.01 L157.27 638.39 L164.75 637.76 L172.22 637.10 L179.70 636.43 L187.18 635.75 L194.66 635.06 L202.14 634.35 L209.62 633.63 L217.10 632.91 L224.58 632.18 L232.05 631.44 L239.53 630.70 L247.01 629.96 L254.49 629.22 L261.97 628.47 L269.45 627.73 L276.93 627.00 L284.41 626.27 L291.88 625.54 L299.36 624.83 L306.84 624.12 L314.32 623.42 L321.80 622.74 L329.28 622.08 L336.76 621.42 L344.24 620.79 L351.72 620.17 L359.19 619.58 L366.67 619.00 L374.15 618.45 L381.63 617.93 L389.11 617.43 L396.59 616.95 L404.07 616.51 L411.55 616.10 L419.02 615.72 L426.50 615.37 L433.98 615.06 L441.46 614.79 L448.94 614.55 L456.42 614.36 L463.90 614.20 L471.38 614.09 L478.85 614.02 L486.33 614.00 L493.81 614.02 L501.29 614.10 L508.77 614.22 L516.25 614.39 L523.73 614.62" fill="none" stroke="#8B008B" stroke-width="2" stroke-linejoin="round"/>
<text transform="translate(535.23,618.02) scale(1,1.08)" font-size="13" font-weight="bold" fill="#8B008B" fill-opacity="0.47">2320 rpm</text>
<path d="M75.00 657.02 L81.54 656.79 L88.09 656.53 L94.63 656.26 L101.18 655.96 L107.72 655.64 L114.26 655.31 L120.81 654.95 L127.35 654.58 L133.90 654.20 L140.44 653.80 L146.98 653.39 L153.53 652.96 L160.07 652.52 L166.62 652.07 L173.16 651.62 L179.70 651.15 L186.25 650.68 L192.79 650.20 L199.33 649.71 L205.88 649.22 L212.42 648.73 L218.97 648.23 L225.51 647.74 L232.05 647.24 L238.60 646.74 L245.14 646.25 L251.69 645.75 L258.23 645.26 L264.77 644.78 L271.32 644.30 L277.86 643.83 L284.41 643.36 L290.95 642.90 L297.49 642.46 L304.04 642.02 L310.58 641.59 L317.13 641.18 L323.67 640.78 L330.21 640.40 L336.76 640.03 L343.30 639.68 L349.85 639.34 L356.39 639.02 L362.93 638.73 L369.48 638.45 L376.02 638.20 L382.57 637.97 L389.11 637.76 L395.65 637.57 L402.20 637.42 L408.74 637.28 L415.28 637.18 L421.83 637.10 L428.37 637.06 L434.92 637.04 L441.46 637.06 L448.00 637.11 L454.55 637.19 L461.09 637.31 L467.64 637.46" fill="none" stroke="#8B0A3C" stroke-width="2" stroke-linejoin="round"/>
<text transform="translate(479.14,640.86) scale(1,1.08)" font-size="13" font-weight="bold" fill="#8B0A3C" fill-opacity="0.47">2030 rpm</text>
<path d="M75.00 666.94 L80.61 666.80 L86.22 666.64 L91.83 666.46 L97.44 666.28 L103.05 666.08 L108.65 665.86 L114.26 665.64 L119.87 665.41 L125.48 665.17 L131.09 664.91 L136.70 664.65 L142.31 664.39 L147.92 664.11 L153.53 663.83 L159.14 663.54 L164.75 663.25 L170.35 662.95 L175.96 662.65 L181.57 662.34 L187.18 662.03 L192.79 661.72 L198.40 661.41 L204.01 661.10 L209.62 660.78 L215.23 660.47 L220.84 660.16 L226.45 659.85 L232.05 659.54 L237.66 659.23 L243.27 658.93 L248.88 658.63 L254.49 658.34 L260.10 658.05 L265.71 657.77 L271.32 657.50 L276.93 657.23 L282.54 656.97 L288.15 656.72 L293.75 656.47 L299.36 656.24 L304.97 656.02 L310.58 655.81 L316.19 655.61 L321.80 655.42 L327.41 655.25 L333.02 655.09 L338.63 654.94 L344.24 654.81 L349.85 654.70 L355.45 654.60 L361.06 654.51 L366.67 654.45 L372.28 654.40 L377.89 654.37 L383.50 654.36 L389.11 654.37 L394.72 654.40 L400.33 654.46 L405.94 654.53 L411.55 654.63" fill="none" stroke="#2E9FDD" stroke-width="2" stroke-linejoin="round"/>
<text transform="translate(423.05,658.03) scale(1,1.08)" font-size="13" font-weight="bold" fill="#2E9FDD" fill-opacity="0.47">1740 rpm</text>
<text class="cjk" x="15.7" y="246" font-size="14" font-weight="bold" fill="#4169E1">扬</text>
<text class="cjk" x="15.8" y="261" font-size="14" font-weight="bold" fill="#4169E1">程</text>
<text transform="translate(26.2,292.8) rotate(-90)" font-size="14" font-weight="bold" fill="#4169E1">(m)</text>
<text class="cjk" x="15.8" y="590.7" font-size="14" font-weight="bold" fill="#C71585">功</text>
<text class="cjk" x="15.6" y="605.7" font-size="14" font-weight="bold" fill="#C71585">率</text>
<text transform="translate(25.8,645.8) rotate(-90)" font-size="14" font-weight="bold" fill="#C71585">(kW)</text>
<text class="cjk" x="347.9" y="743.1" font-size="14" font-weight="bold" fill="#000">流</text>
<text class="cjk" x="361.5" y="743.1" font-size="14" font-weight="bold" fill="#000">量</text>
<text x="380.5" y="743.3" font-size="13.7" font-weight="bold" fill="#000">(m³/h)</text>
</svg>
</body></html>
